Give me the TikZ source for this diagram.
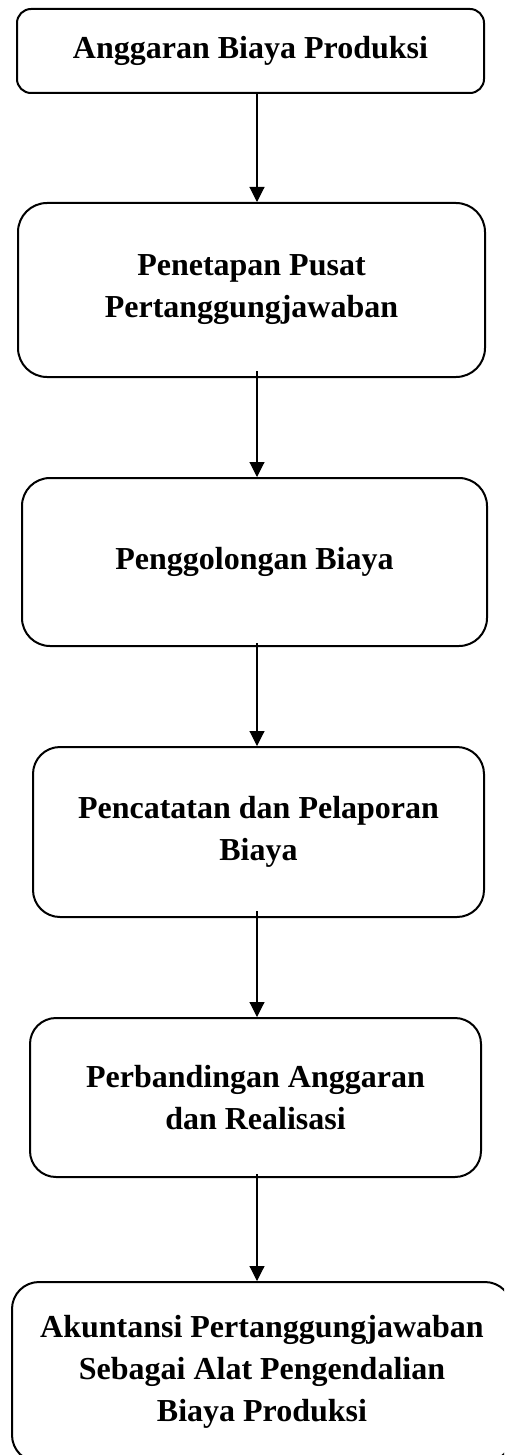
\documentclass[tikz,border=0pt]{standalone}
\usepackage{fontspec}
\setmainfont{Liberation Serif}
\usetikzlibrary{arrows.meta}

\begin{document}
\begin{tikzpicture}[x=1pt,y=1pt]
	\useasboundingbox (0,0) rectangle (504,-1455);
	\clip (0,0) rectangle (504,-1455);
	\coordinate (spine) at (257,0);

	\begin{scope}[every node/.style={draw,line width=2pt,inner sep=0pt,align=center,
	              font=\fontsize{32}{42}\selectfont\bfseries}]
	    \node[minimum width=467pt,minimum height=84pt,rounded corners=14pt] (anggaran) at (250.5,-51) {Anggaran Biaya Produksi};
	    \node[minimum width=467pt,minimum height=174pt,rounded corners=29pt] (penetapan) at (251.5,-290) {Penetapan Pusat\\Pertanggungjawaban};
	    \node[minimum width=465pt,minimum height=168pt,rounded corners=28pt] (penggolongan) at (254.5,-562) {Penggolongan Biaya};
	    \node[minimum width=451pt,minimum height=170pt,rounded corners=27pt] (pencatatan) at (258.5,-832) {Pencatatan dan Pelaporan\\Biaya};
	    \node[minimum width=451pt,minimum height=159pt,rounded corners=26pt] (perbandingan) at (255.5,-1097.5) {Perbandingan Anggaran\\dan Realisasi};
	    \node[minimum width=500pt,minimum height=180pt,rounded corners=27pt] (akuntansi) at (262,-1372) {Akuntansi Pertanggungjawaban\\Sebagai Alat Pengendalian\\Biaya Produksi};
	\end{scope}

	\begin{scope}[>={Triangle[width=15pt,length=15pt]},
	              every edge/.style={draw=black,line width=1.1pt}]
	    \path [->] (anggaran.south -| spine) edge (penetapan.north -| spine);
	    \path [->] ([yshift=7pt]penetapan.south -| spine) edge (penggolongan.north -| spine);
	    \path [->] ([yshift=4pt]penggolongan.south -| spine) edge (pencatatan.north -| spine);
	    \path [->] ([yshift=7pt]pencatatan.south -| spine) edge (perbandingan.north -| spine);
	    \path [->] ([yshift=4pt]perbandingan.south -| spine) edge (akuntansi.north -| spine);
	\end{scope}
\end{tikzpicture}
\end{document}
